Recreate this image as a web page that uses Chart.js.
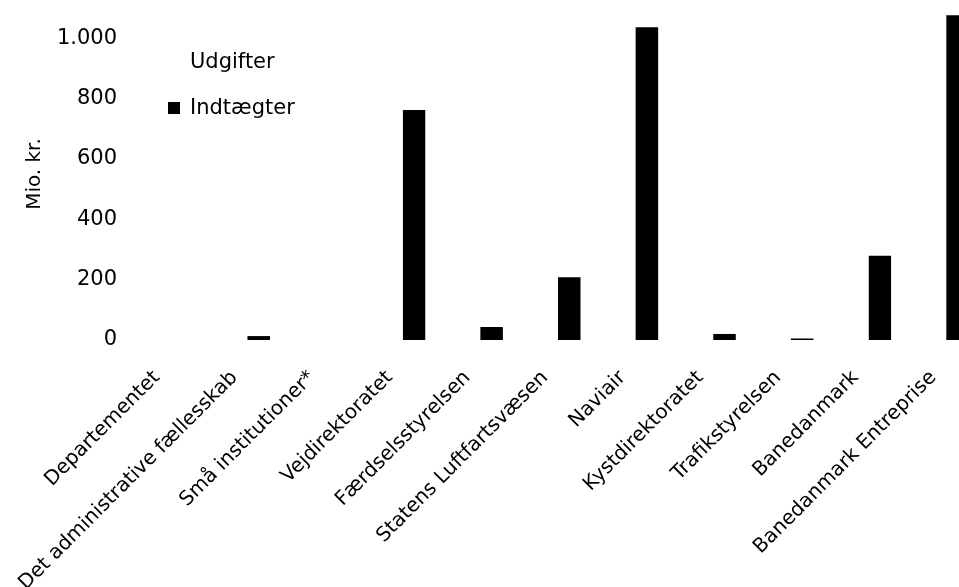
<!DOCTYPE html>
<html>
<head>
<meta charset="UTF-8">
<title>Udgifter og indtægter</title>
<style>
  body { margin: 0; background: #fff; overflow: hidden; }
  #wrap { position: relative; width: 990px; height: 587px; }
</style>
</head>
<body>
<div id="wrap"><canvas id="myChart"></canvas></div>

<script src="https://cdn.jsdelivr.net/npm/chart.js@4.4.1/dist/chart.umd.min.js"></script>
<script>
// kategorier (virksomheder)
var labels = ['Departementet', 'Det administrative fællesskab', 'Små institutioner*',
              'Vejdirektoratet', 'Færdselsstyrelsen', 'Statens Luftfartsvæsen', 'Naviair',
              'Kystdirektoratet', 'Trafikstyrelsen', 'Banedanmark', 'Banedanmark Entreprise'];

// mio. kr. - udgifter er hvide i originalen (kan knap ses)
var udgifter   = [3, 0, 0, 1075, 0, 0, 0, 0, 0, 826, 1075];
var indtaegter = [0, 13, 0, 762, 43, 208, 1036, 20, 5, 279, 1076];

var yTicks = [0, 200, 400, 600, 800, 1000];

var font = 'DejaVu Sans, Verdana, sans-serif';

// legenden står inde i plotområdet
var legendInside = {
  id: 'legendInside',
  afterDraw: function(chart) {
    var ctx = chart.ctx;
    ctx.save();
    ctx.font = '21px ' + font;
    ctx.textBaseline = 'alphabetic';
    chart.data.datasets.forEach(function(ds, i) {
      var y = 68 + i * 46;
      ctx.fillStyle = ds.backgroundColor;
      ctx.fillRect(168, y - 12, 12, 12);
      ctx.fillStyle = '#000';
      ctx.fillText(ds.label, 190, y);
    });
    ctx.restore();
  }
};

var ctx = document.getElementById('myChart').getContext('2d');
var chart = new Chart(ctx, {
  type: 'bar',
  data: {
    labels: labels,
    datasets: [
      { label: 'Udgifter', backgroundColor: '#ffffff', data: udgifter },
      { label: 'Indtægter', backgroundColor: '#000000', data: indtaegter }
    ]
  },
  options: {
    responsive: true,
    maintainAspectRatio: false,
    animation: false,
    categoryPercentage: 0.58,
    barPercentage: 1,
    layout: { padding: { left: 19, top: 8, right: 5, bottom: 0 } },
    plugins: { legend: { display: false }, tooltip: { enabled: false } },
    scales: {
      x: {
        grid: { display: false, drawTicks: false },
        border: { display: false },
        ticks: {
          color: '#000', font: { family: font, size: 20 },
          autoSkip: false, minRotation: 45, maxRotation: 45,
          padding: 26, labelOffset: -13
        },
        afterFit: function(s) { s.height = 247; s.paddingLeft = 0; s.paddingRight = 0; }
      },
      y: {
        min: 0, max: 1100,
        grid: { display: false, drawTicks: false },
        border: { display: false },
        afterBuildTicks: function(s) { s.ticks = yTicks.map(function(v) { return { value: v }; }); },
        ticks: {
          color: '#000', font: { family: font, size: 21 }, padding: 14,
          callback: function(v) { return String(v).replace(/\B(?=(\d{3})+(?!\d))/g, '.'); }
        },
        title: { display: true, text: 'Mio. kr.', color: '#000', font: { family: font, size: 20 } },
        afterFit: function(s) { s.width = 112; s.paddingTop = 0; s.paddingBottom = 0; }
      }
    }
  },
  plugins: [legendInside]
});
</script>
</body>
</html>
